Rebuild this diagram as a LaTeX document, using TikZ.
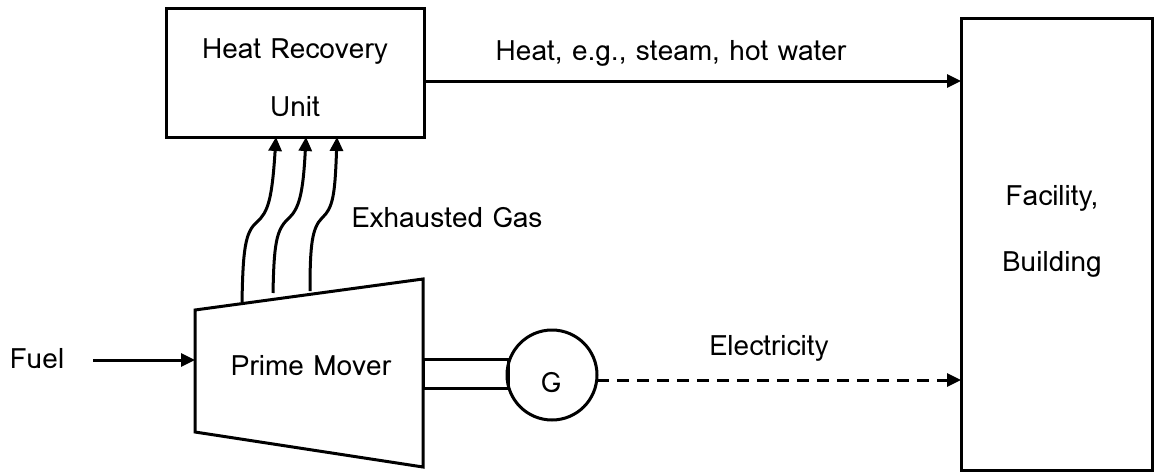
\documentclass[tikz,border=0pt]{standalone}
\usepackage{fontspec}
\setmainfont{Loma}
\usetikzlibrary{arrows.meta}
\begin{document}
\begin{tikzpicture}[x=1pt,y=-1pt,
  line width=3pt,
  lbl/.style={font=\fontsize{28}{32}\selectfont, inner sep=0pt},
  boxnode/.style={draw, rectangle, inner sep=0pt},
  tip/.style={-{Triangle[length=14pt,width=13pt]}},
]
\useasboundingbox (0,0) rectangle (1157,474);
% Heat recovery unit
\node[boxnode, minimum width=258pt, minimum height=129pt] (hru) at (295,72.5) {};
\node[lbl] (hrut1) at (295,52) {Heat Recovery};
\node[lbl] (hrut2) at (295,107) {Unit};
% Facility
\node[boxnode, minimum width=191pt, minimum height=452pt] (fac) at (1056.5,244) {};
\node[lbl] (fact1) at (1052,198) {Facility,};
\node[lbl] (fact2) at (1052,264) {Building};
% Prime mover
\coordinate (pmTL) at (195,310);
\coordinate (pmTR) at (423,279);
\coordinate (pmBR) at (423,467);
\coordinate (pmBL) at (195,432);
\draw (pmTL) -- (pmTR) -- (pmBR) -- (pmBL) -- cycle;
\node[lbl] (pm) at (311,366) {Prime Mover};
% Generator and shaft
\node[draw, circle, minimum size=90pt, inner sep=0pt] (gen) at (552,375) {};
\node[lbl] at (551,383) {G};
\draw (423,359) rectangle (508,388);
% Fuel
\node[lbl] (fuel) at (37,359) {Fuel};
\coordinate (fuelin) at (195,360);
\draw[tip] (93,360) -- (fuelin);
% Heat arrow
\coordinate (hs) at (424,81);
\coordinate (he) at (961,81);
\draw[tip] (hs) -- (he);
\node[lbl] (heatlbl) at (671,53) {Heat, e.g., steam, hot water};
% Electricity
\coordinate (es) at (597,380);
\coordinate (ee) at (961,380);
\draw[tip, dash pattern=on 12pt off 8pt] (es) -- (ee);
\node[lbl] (elbl) at (769,348) {Electricity};
% Exhaust
\coordinate (x1b) at (242,302); \coordinate (x1t) at (276,137);
\coordinate (x2b) at (273,293); \coordinate (x2t) at (306,137);
\coordinate (x3b) at (310,291); \coordinate (x3t) at (337,137);
\draw[tip] (x1b) .. controls (243,250) and (245,232) .. (257,222) .. controls (268,212) and (272,200) .. (x1t);
\draw[tip] (x2b) .. controls (274,245) and (276,230) .. (288,219) .. controls (299,209) and (303,195) .. (x2t);
\draw[tip] (x3b) .. controls (310,245) and (312,228) .. (322,218) .. controls (333,208) and (335,195) .. (x3t);
\node[lbl] (exlbl) at (447,218) {Exhausted Gas};
% caption (cut off at the bottom edge, as in the reference)
\node[lbl] (cap) at (563,490) {(a)};
\end{tikzpicture}
\end{document}
